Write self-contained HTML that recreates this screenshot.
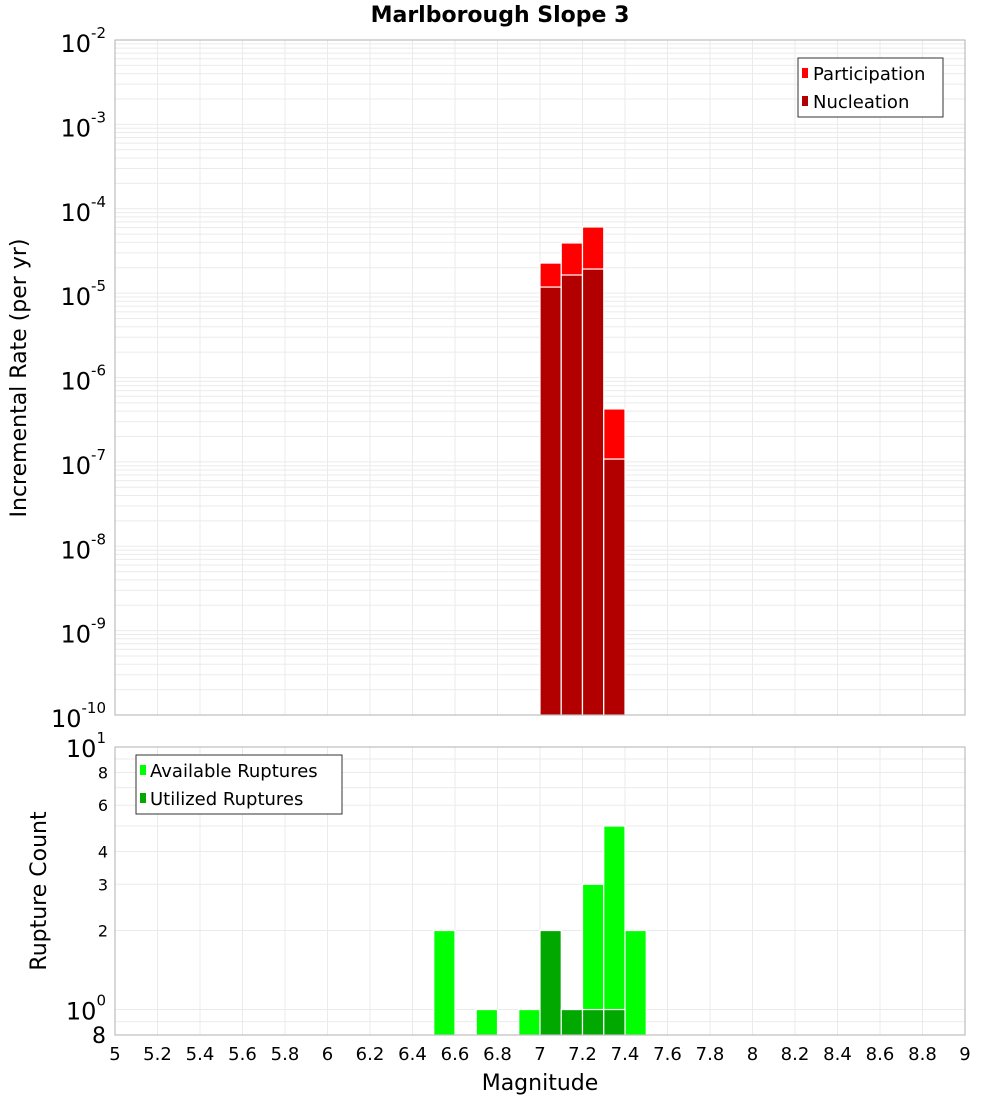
<!DOCTYPE html>
<html><head><meta charset="utf-8"><style>
body{margin:0;background:#fff}
svg{font-family:"DejaVu Sans","Liberation Sans",sans-serif;display:block}
</style></head><body>
<svg id="chart" width="1000" height="1100" viewBox="0 0 1000 1100" xmlns="http://www.w3.org/2000/svg">
<text x="500" y="22" text-anchor="middle" font-size="22" font-weight="bold">Marlborough Slope 3</text>
<g id="topplot"></g>
<g id="botplot"></g>
<text transform="translate(26,378) rotate(-90)" text-anchor="middle" font-size="22">Incremental Rate (per yr)</text>
<text transform="translate(46,891) rotate(-90)" text-anchor="middle" font-size="22">Rupture Count</text>
<text x="540" y="1090" text-anchor="middle" font-size="22">Magnitude</text>
</svg>
<script>
const magCenters=[7.05,7.15,7.25,7.35];
const participation=[2.27e-5,3.93e-5,6.08e-5,4.24e-7];
const nucleation=[1.18e-5,1.64e-5,1.93e-5,1.08e-7];
const availMags=[6.55,6.75,6.95,7.05,7.15,7.25,7.35,7.45];
const availCounts=[2,1,1,2,1,3,5,2];
const utilMags=[7.05,7.15,7.25,7.35];
const utilCounts=[2,1,1,1];
const xTicks=["5","5.2","5.4","5.6","5.8","6","6.2","6.4","6.6","6.8","7","7.2","7.4","7.6","7.8","8","8.2","8.4","8.6","8.8","9"];
const rateExps=[-2,-3,-4,-5,-6,-7,-8,-9,-10];
const countTicks=[2,3,4,6,8];

const NS="http://www.w3.org/2000/svg";
const X0=115,X1=965;
const xs=m=>X0+(m-5)/4*(X1-X0);
const T0=40,T1=715;
const ys1=v=>T0+(-2-Math.log10(v))/8*(T1-T0);
const B0=747,B1=1035,BL=Math.log10(0.8);
const ys2=v=>B0+(1-Math.log10(v))/(1-BL)*(B1-B0);
function mk(p,tag,at,txt){const e=document.createElementNS(NS,tag);for(const k in at)e.setAttribute(k,at[k]);if(txt!==undefined)e.textContent=txt;p.appendChild(e);return e;}
const topG=document.getElementById('topplot'),botG=document.getElementById('botplot');

for(let e=-10;e<-2;e++)for(let k=1;k<10;k++){const y=ys1(k*Math.pow(10,e));
 const l=mk(topG,'line',{x1:X0,x2:X1,y1:y,y2:y,stroke:'#ebebeb','stroke-width':1});
 
 }
for(let i=1;i<20;i++){const x=xs(5+i*0.2);
 const l=mk(topG,'line',{x1:x,x2:x,y1:T0,y2:T1,stroke:'#ebebeb'});
 
 
 const l2=mk(botG,'line',{x1:x,x2:x,y1:B0,y2:B1,stroke:'#ebebeb'});
 
 }
const w=(X1-X0)/40;
magCenters.forEach((m,i)=>{
 const y=ys1(participation[i]);
 const r=mk(topG,'rect',{x:xs(m)-w/2,y:y,width:w,height:T1-y,fill:'#ff0000',stroke:'#fff','stroke-width':1.2});
 
 
 const y2=ys1(nucleation[i]);
 const r2=mk(topG,'rect',{x:xs(m)-w/2,y:y2,width:w,height:T1-y2,fill:'#b20000',stroke:'#fff','stroke-width':1.2});
 
 
});
mk(topG,'rect',{x:X0,y:T0,width:X1-X0,height:T1-T0,fill:'none',stroke:'#b0b0b0'});
rateExps.forEach(e=>{const y=ys1(Math.pow(10,e));
 const t=mk(topG,'text',{x:106,y:y+12,'text-anchor':'end','font-size':24});
 
 
 t.textContent='10';
 mk(t,'tspan',{dy:-14,'font-size':15},String(e));
});
const lg=mk(topG,'g',{});


mk(lg,'rect',{x:798,y:58,width:145,height:59,fill:'#fff',stroke:'#333'});
mk(lg,'rect',{x:802,y:68,width:6,height:10,fill:'#ff0000'});
mk(lg,'text',{x:813,y:80,'font-size':18},'Participation');
mk(lg,'rect',{x:802,y:96,width:6,height:10,fill:'#b20000'});
mk(lg,'text',{x:813,y:108,'font-size':18},'Nucleation');

[0.9,1,2,3,4,5,6,7,8,9].forEach(v=>{const y=ys2(v);
 const l=mk(botG,'line',{x1:X0,x2:X1,y1:y,y2:y,stroke:'#ebebeb'});
 
 });
availMags.forEach((m,i)=>{const y=ys2(availCounts[i]);
 const r=mk(botG,'rect',{x:xs(m)-w/2,y:y,width:w,height:B1-y,fill:'#00ff00',stroke:'#fff','stroke-width':1.2});
 
 });
utilMags.forEach((m,i)=>{const y=ys2(utilCounts[i]);
 const r=mk(botG,'rect',{x:xs(m)-w/2,y:y,width:w,height:B1-y,fill:'#00a800',stroke:'#fff','stroke-width':1.2});
 
 });
mk(botG,'rect',{x:X0,y:B0,width:X1-X0,height:B1-B0,fill:'none',stroke:'#b0b0b0'});
countTicks.forEach(v=>{const t=mk(botG,'text',{x:108,y:ys2(v)+6,'text-anchor':'end','font-size':16},String(v));
 
 });
[[10,'1'],[1,'0']].forEach(([v,e])=>{const t=mk(botG,'text',{x:106,y:ys2(v)+10,'text-anchor':'end','font-size':24});
 
 
 t.textContent='10';mk(t,'tspan',{dy:-14,'font-size':15},e);});
const t8=mk(botG,'text',{x:106,y:1043,'text-anchor':'end','font-size':22},'8');


xTicks.forEach(s=>{const t=mk(botG,'text',{x:xs(parseFloat(s)),y:1060,'text-anchor':'middle','font-size':18},s);
 
 });
const lb=mk(botG,'g',{});


mk(lb,'rect',{x:136,y:755,width:206,height:59,fill:'#fff',stroke:'#333'});
mk(lb,'rect',{x:140,y:765,width:6,height:10,fill:'#00ff00'});
mk(lb,'text',{x:150,y:777,'font-size':18},'Available Ruptures');
mk(lb,'rect',{x:140,y:793,width:6,height:10,fill:'#00a800'});
mk(lb,'text',{x:150,y:805,'font-size':18},'Utilized Ruptures');
</script>
</body></html>
